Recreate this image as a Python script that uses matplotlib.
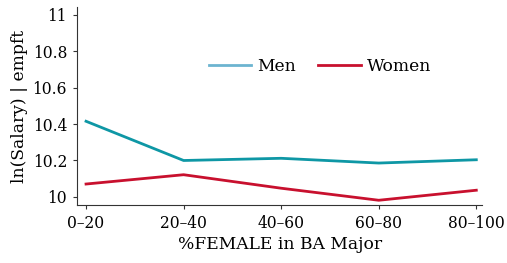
import matplotlib
matplotlib.use("Agg")
import matplotlib.pyplot as plt
from matplotlib.lines import Line2D
from matplotlib.ticker import FormatStrFormatter
import numpy as np

plt.rcParams["font.family"] = "DejaVu Serif"

cats = ["0–20", "20–40", "40–60", "60–80", "80–100"]
men = [10.415, 10.200, 10.212, 10.186, 10.204]
women = [10.071, 10.122, 10.048, 9.982, 10.037]
x = np.arange(len(cats))

fig = plt.figure(figsize=(5.07, 2.63), dpi=100)
ax = fig.add_axes([0.152, 0.2205, 0.799, 0.752])
ax.plot(x, men, color="#0e97a5", lw=2)
ax.plot(x, women, color="#c8102e", lw=2)

ax.set_xlim(-0.092, 4.06)
ax.set_ylim(9.956, 11.04)
ax.set_xticks(x, cats)
ax.set_yticks([10, 10.2, 10.4, 10.6, 10.8, 11])
ax.yaxis.set_major_formatter(FormatStrFormatter("%g"))
ax.tick_params(labelsize=11.2, length=3.2, color="#333333", pad=4)
for s in ["top", "right"]:
    ax.spines[s].set_visible(False)
for s in ["left", "bottom"]:
    ax.spines[s].set_color("#333333")

ax.set_xlabel("%FEMALE in BA Major", fontsize=12.3, labelpad=3)
ax.set_ylabel("ln(Salary) | empft", fontsize=12.3, labelpad=3)

handles = [Line2D([], [], color="#6cb4d0", lw=2),
           Line2D([], [], color="#c8102e", lw=2)]
ax.legend(handles, ["Men", "Women"], ncol=2, frameon=False, loc="center",
          bbox_to_anchor=(0.6, 0.7), fontsize=12.3, handlelength=2.5,
          handletextpad=0.35, columnspacing=1.3)

fig.savefig("out.png", dpi=100)
